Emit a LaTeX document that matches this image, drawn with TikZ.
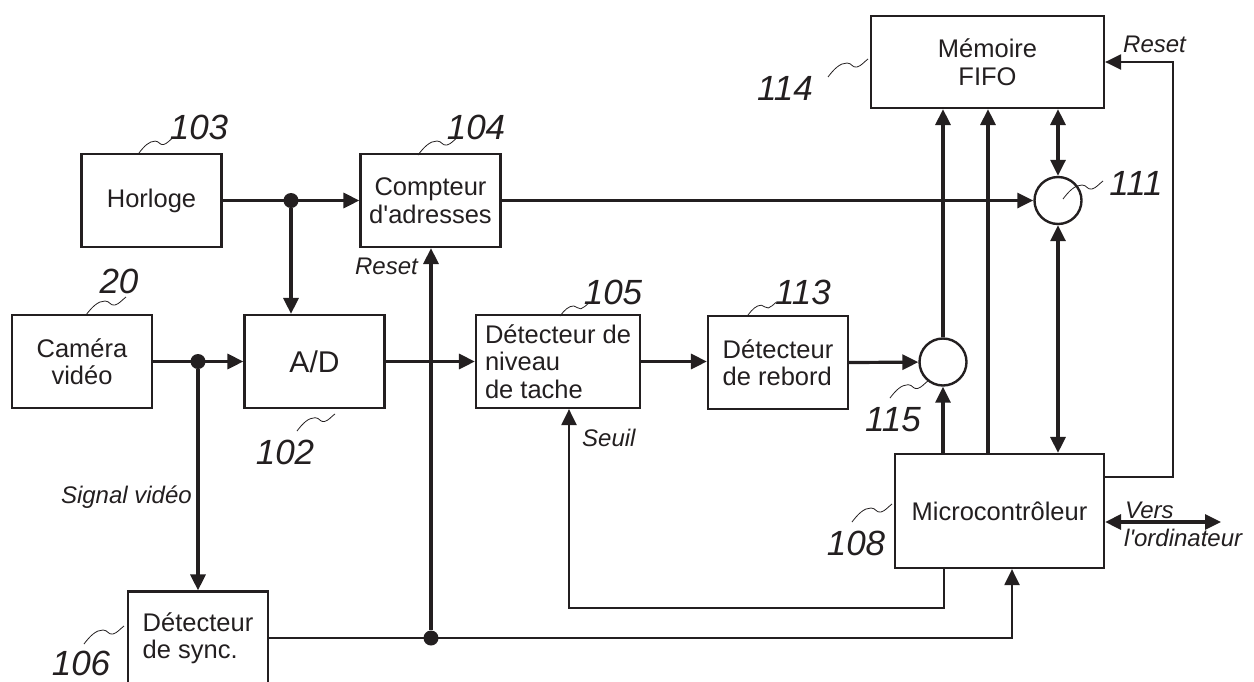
\documentclass[tikz,border=0pt]{standalone}
\usepackage{fontspec}
\setmainfont{Liberation Sans}
\usetikzlibrary{arrows.meta}
\definecolor{ink}{HTML}{231F20}
% small wavy leader from a reference number to its part
\newcommand\squig[2][1]{\draw[lead,shift={#2},scale=#1] (0,0) .. controls (6,-8) and (12,-14) .. (19,-14) .. controls (24,-14) and (24,-9) .. (29,-10) .. controls (33,-11) and (36,-15) .. (40,-18);}

\begin{document}
\begin{tikzpicture}[x=1pt,y=-1pt,box/.style={draw=ink,line width=2.2pt,minimum width=140pt,minimum height=93pt,align=center,inner sep=0pt,text=ink,font=\fontsize{25.5}{27.5}\selectfont},ring/.style={draw=ink,circle,line width=2.4pt,minimum size=47pt,inner sep=0pt},arr/.style={-{Triangle[length=16pt,width=15pt]},line width=3.2pt,draw=ink},both/.style={{Triangle[length=16pt,width=15pt]}-{Triangle[length=16pt,width=15pt]},line width=3.2pt,draw=ink},thin/.style={-{Triangle[length=16pt,width=15pt]},line width=2.2pt,draw=ink},num/.style={inner sep=0pt,text=ink,font=\fontsize{35}{35}\selectfont\itshape},lbl/.style={inner sep=0pt,text=ink,font=\fontsize{24}{26}\selectfont\itshape},lead/.style={draw=ink,line width=0.8pt},dot/.style={circle,fill=ink,minimum size=15pt,inner sep=0pt}]
\useasboundingbox (0,0) rectangle (1254,681);
% blocks
\node[box] (horloge) at (151.5,200.5) {Horloge};
\node[box] (compteur) at (430.5,200.5) {Compteur\\d\textquotesingle adresses};
\node[box] (camera) at (82,361.5) {Caméra\\vidéo};
\node[box,font=\fontsize{30}{32}\selectfont] (ad) at (314.5,361.5) {A/D};
\node[box,minimum width=164pt,align=left] (niveau) at (558,361.5) {Détecteur de\\niveau\\de tache};
\node[box,align=left] (rebord) at (778,362.5) {Détecteur\\de rebord};
\node[box,minimum width=233pt,minimum height=92pt] (memoire) at (987.5,62) {Mémoire\\FIFO};
\node[box,minimum width=209pt,minimum height=114pt] (micro) at (999.5,511) {Microcontrôleur};
\node[box,align=left] (sync) at (198,638) {Détecteur\\de sync.};
\node[ring] (c111) at (1058,200.5) {};
\node[ring] (c115) at (943,362) {};
% junctions and bends
\node[dot] (jh) at (291,200.5) {};
\node[dot] (jc) at (198,361.5) {};
\node[dot] (js) at (431,638) {};
\coordinate (bus) at (988,0);
\coordinate (rs) at (1173,477);
\coordinate (pc) at (1221,522);
\coordinate (sr) at (944,608);
\coordinate (sl) at (569,608);
\coordinate (sy) at (1012,0);
% connectors
\draw[arr] (horloge) -- (compteur);
\draw[arr] (jh) -- (jh |- ad.north);
\draw[arr] (camera) -- (ad);
\draw[arr] (jc) -- (sync);
\draw[arr] (ad) -- (niveau);
\draw[arr] (niveau.east) -- (niveau.east -| rebord.west);
\draw[arr] (rebord.east) -- (c115);
\draw[arr] (c115.north) -- (c115.north |- memoire.south);
\draw[arr] (c115.south |- micro.north) -- (c115.south);
\draw[arr] (micro.north -| bus) -- (memoire.south -| bus);
\draw[both] (memoire.south -| c111) -- (c111.north);
\draw[both] (c111.south) -- (c111.south |- micro.north);
\draw[arr] (compteur.east |- c111) -- (c111.west);
\draw[thin] (micro.east |- rs) -- (rs) |- (memoire.east);
\draw[both] (micro.east |- pc) -- (pc);
\draw[thin] (micro.south -| sr) -- (sr) -- (sl) -- (niveau.south -| sl);
\draw[thin] (sync.east) -| (sy |- micro.south);
\draw[arr] (js) -- (js |- compteur.south);
% labels
\node[lbl,anchor=east] at (418,266) {Reset};
\node[lbl,anchor=east] at (192,497) {Signal vidéo};
\node[lbl,anchor=west] at (582,438) {Seuil};
\node[lbl,anchor=west] at (1123,44) {Reset};
\node[lbl,anchor=west] at (1125,510) {Vers};
\node[lbl,anchor=west] at (1124,538) {l\textquotesingle ordinateur};
% reference numbers
\node[num] at (199,127) {103};
\node[num] at (476,127) {104};
\node[num] at (119,281) {20};
\node[num] at (285,452) {102};
\node[num] at (613,292) {105};
\node[num] at (803,292) {113};
\node[num] at (785,88) {114};
\node[num] at (1136,183) {111};
\node[num] at (893,420) {115};
\node[num] at (856,543) {108};
\node[num] at (81,663) {106};
\squig[0.85]{(139,153)}
\squig{(418,155)}
\squig{(86,315)}
\squig[0.95]{(297,431)}
\squig[0.72]{(560,316)}
\squig[0.7]{(748,315)}
\squig{(828,77)}
\squig{(1063,199)}
\squig[0.95]{(890,398)}
\squig{(852,522)}
\squig{(84,644)}
\end{tikzpicture}
\end{document}
